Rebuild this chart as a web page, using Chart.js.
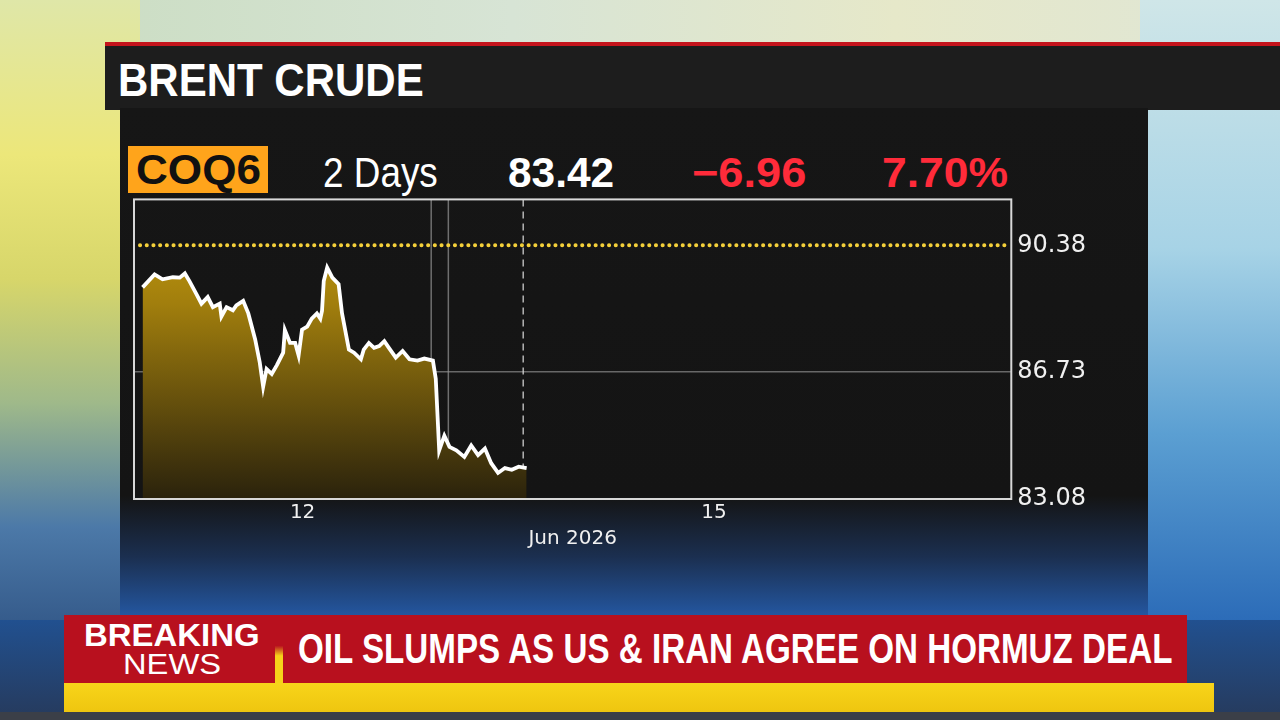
<!DOCTYPE html>
<html>
<head>
<meta charset="utf-8">
<script src="https://cdn.jsdelivr.net/npm/chart.js@4.4.1/dist/chart.umd.min.js"></script>
<style>
    html, body { margin: 0; padding: 0; }
    body {
        width: 1280px; height: 720px; overflow: hidden; position: relative;
        font-family: "Liberation Sans", Arial, sans-serif;
        background: linear-gradient(180deg, #d6e6e2 0%, #a9cfe3 35%, #5d93c8 62%, #1f5aa6 80%, #263a5c 100%);
    }
    .abs { position: absolute; }
    .fit { display: inline-block; white-space: nowrap; transform-origin: 0 50%; }
    #leftWall {
        left: 0; top: 0; width: 140px; height: 620px;
        background: linear-gradient(180deg, #dfe7a8 0%, #ece77a 25%, #d7d66a 45%, #9fb98a 65%, #4c79a8 85%, #365c8c 100%);
    }
    #rightWall {
        left: 1140px; top: 0; width: 140px; height: 620px;
        background: linear-gradient(180deg, #cfe6e8 0%, #a7d3e6 40%, #5b9fd2 70%, #2c6cb8 100%);
    }
    #topWall {
        left: 0; top: 0; width: 1280px; height: 44px;
        background: linear-gradient(90deg, #c9dcc0 0%, #d7e4d5 40%, #e6e8c9 70%, #dfe6d6 100%);
    }
    #header {
        left: 105px; top: 42px; width: 1175px; height: 64px;
        background: #1d1d1d; border-top: 4px solid #c4141c;
    }
    #header span {
        position: absolute; left: 13px; top: 8px; color: #fff;
        font-weight: bold; font-size: 46px; line-height: 52px;
    }
    #panel {
        left: 120px; top: 108px; width: 1028px; height: 510px;
        background: linear-gradient(180deg, #161616 0%, #141414 76%, #1b2f50 88%, #2458a3 100%);
    }
    .stat { position: absolute; top: 150px; font-size: 42px; line-height: 46px; }
    #ticker {
        left: 128px; top: 146px; width: 140px; height: 47px; background: #ffa41b;
    }
    #ticker span {
        position: absolute; left: 8px; top: 1px; color: #111; font-weight: bold; font-size: 42px; line-height: 46px;
    }
    #chartBox { left: 120px; top: 179px; }
    #bnLeft {
        left: 64px; top: 615px; width: 211px; height: 68px; background: #b8101e; color: #fff;
    }
    #bnLeft .b1 { position: absolute; left: 20px; top: 3px; font-weight: bold; font-size: 32px; line-height: 34px; }
    #bnLeft .b2 { position: absolute; left: 59px; top: 33px; font-size: 30px; line-height: 32px; }
    #bnRight {
        left: 283px; top: 615px; width: 904px; height: 68px; background: #b8101e; color: #fff;
    }
    #bnRight span {
        position: absolute; left: 15px; top: 11px; font-weight: bold; font-size: 42px; line-height: 46px;
    }
    #bnGap { left: 275px; top: 615px; width: 8px; height: 68px; background: linear-gradient(180deg, #b8101e 0%, #b8101e 45%, #f6d21a 60%); }
    #yellowBand { left: 64px; top: 683px; width: 1150px; height: 30px; background: linear-gradient(180deg, #f8d41a, #eec50f); }
    #floor { left: 0; top: 712px; width: 1280px; height: 8px; background: #3b3f48; }
</style>
</head>
<body>
<div class="abs" id="topWall"></div>
<div class="abs" id="leftWall"></div>
<div class="abs" id="rightWall"></div>
<div class="abs" id="header"><span class="fit" data-w="306">BRENT CRUDE</span></div>
<div class="abs" id="panel"></div>

<div class="abs" id="ticker"><span class="fit" data-w="125">COQ6</span></div>
<div class="stat fit" data-w="115" style="left:323px;color:#fff;">2 Days</div>
<div class="stat fit" data-w="106" style="left:508px;color:#fff;font-weight:bold;">83.42</div>
<div class="stat fit" data-w="114" style="left:692px;color:#ff2b3a;font-weight:bold;">&minus;6.96</div>
<div class="stat fit" data-w="126" style="left:882px;color:#ff2b3a;font-weight:bold;">7.70%</div>

<div class="abs" id="chartBox"><canvas id="priceChart" width="1000" height="376"></canvas></div>

<div class="abs" id="bnLeft"><span class="b1 fit" data-w="176">BREAKING</span><span class="b2 fit" data-w="98">NEWS</span></div>
<div class="abs" id="bnGap"></div>
<div class="abs" id="bnRight"><span class="fit" data-w="874">OIL SLUMPS AS US &amp; IRAN AGREE ON HORMUZ DEAL</span></div>
<div class="abs" id="yellowBand"></div>
<div class="abs" id="floor"></div>

<script>
// hours from the start of the window, and the price read at each point
const hours = [0, 2.1, 3.5, 5.3, 6.5, 7.4, 8.2, 9.4, 10.3, 11.4, 12.3, 13.5, 13.8, 14.7, 15.8, 16.4, 17.6,
    18.5, 19.7, 20.5, 21.1, 21.7, 22.6, 23.5, 24.6, 24.9, 25.8, 26.7, 27.3, 27.9, 28.8, 29.6, 30.5, 31.1,
    31.4, 31.7, 32.3, 33.2, 34.3, 34.9, 36.1, 37.0, 38.2, 38.7, 39.6, 40.5, 41.4, 42.3, 43.1, 44.3, 45.5,
    46.7, 48.1, 49.3, 50.8, 51.3, 51.9, 52.8, 53.7, 54.9, 56.3, 57.5, 58.7, 59.9, 61.0, 62.2, 63.4, 64.6,
    65.8, 67.2];
const prices = [89.17, 89.54, 89.40, 89.46, 89.45, 89.57, 89.35, 88.98, 88.70, 88.89, 88.60, 88.70, 88.33,
    88.60, 88.51, 88.65, 88.78, 88.42, 87.67, 87.01, 86.31, 86.82, 86.68, 86.93, 87.29, 87.94, 87.57, 87.57,
    87.21, 87.95, 88.04, 88.27, 88.42, 88.27, 88.50, 89.35, 89.74, 89.45, 89.26, 88.42, 87.38, 87.29, 87.10,
    87.38, 87.57, 87.43, 87.48, 87.62, 87.43, 87.15, 87.34, 87.10, 87.06, 87.12, 87.06, 86.54, 84.48, 84.90,
    84.58, 84.48, 84.29, 84.62, 84.34, 84.53, 84.11, 83.83, 83.97, 83.92, 84.01, 83.97];

const xTickHours = [28, 100];
const xTickLabels = ['12', '15'];
const yTickValues = [83.08, 86.73, 90.38];
const prevClose = 90.38;
const sessionLines = [50.5, 53.5];
const nowLine = 66.6;

// squeeze the caption texts to the widths they have on screen
document.querySelectorAll('.fit').forEach(el => {
    const w = +el.dataset.w;
    el.style.transform = 'scaleX(' + (w / el.offsetWidth).toFixed(3) + ')';
});

const overlays = {
    id: 'overlays',
    beforeDatasetsDraw(chart) {
        const { ctx, chartArea, scales } = chart;
        ctx.save();
        ctx.strokeStyle = 'rgba(150,150,150,0.7)';
        ctx.lineWidth = 1.5;
        sessionLines.forEach(h => {
            const x = scales.x.getPixelForValue(h);
            ctx.beginPath();
            ctx.moveTo(x, chartArea.top);
            ctx.lineTo(x, chartArea.bottom);
            ctx.stroke();
        });
        ctx.setLineDash([7, 5]);
        ctx.strokeStyle = 'rgba(220,220,220,0.8)';
        const nx = scales.x.getPixelForValue(nowLine);
        ctx.beginPath();
        ctx.moveTo(nx, chartArea.top);
        ctx.lineTo(nx, chartArea.bottom);
        ctx.stroke();
        ctx.restore();
    },
    afterDatasetsDraw(chart) {
        const { ctx, chartArea, scales } = chart;
        ctx.save();
        const y = scales.y.getPixelForValue(prevClose);
        ctx.strokeStyle = '#f4d03a';
        ctx.lineWidth = 4;
        ctx.lineCap = 'round';
        ctx.setLineDash([0.1, 6.6]);
        ctx.beginPath();
        ctx.moveTo(chartArea.left + 6, y);
        ctx.lineTo(chartArea.right - 6, y);
        ctx.stroke();
        ctx.setLineDash([]);
        ctx.lineCap = 'butt';
        ctx.strokeStyle = '#d8d8d8';
        ctx.lineWidth = 2;
        ctx.strokeRect(chartArea.left, chartArea.top, chartArea.right - chartArea.left, chartArea.bottom - chartArea.top);
        ctx.restore();
    }
};

function fillGradient(context) {
    const area = context.chart.chartArea;
    if (!area) return 'rgba(180,140,10,0.8)';
    const g = context.chart.ctx.createLinearGradient(0, area.top, 0, area.bottom);
    g.addColorStop(0, '#cda20e');
    g.addColorStop(0.35, '#a17e0d');
    g.addColorStop(1, '#2a220c');
    return g;
}

const ctx = document.getElementById('priceChart').getContext('2d');
new Chart(ctx, {
    type: 'line',
    data: {
        datasets: [{
            data: hours.map((h, i) => ({ x: h, y: prices[i] })),
            borderColor: '#ffffff',
            borderWidth: 3.8,
            pointRadius: 0,
            tension: 0,
            fill: 'start',
            backgroundColor: fillGradient
        }]
    },
    options: {
        responsive: false,
        animation: false,
        layout: { padding: { left: 14, top: 0, right: 28, bottom: 4 } },
        plugins: { legend: { display: false }, tooltip: { enabled: false } },
        scales: {
            x: {
                type: 'linear',
                min: -1.5,
                max: 152,
                afterBuildTicks: s => { s.ticks = xTickHours.map(v => ({ value: v })); },
                ticks: {
                    color: '#f0f0f0',
                    font: { family: 'DejaVu Sans', size: 20 },
                    padding: 2,
                    maxRotation: 0,
                    callback: v => xTickLabels[xTickHours.indexOf(v)]
                },
                grid: { display: false, drawTicks: false },
                border: { display: false },
                title: {
                    display: true,
                    text: 'Jun 2026',
                    color: '#f0f0f0',
                    font: { family: 'DejaVu Sans', size: 20 },
                    padding: { top: 0, bottom: 0 }
                }
            },
            y: {
                position: 'right',
                min: 83.08,
                max: 91.7,
                afterBuildTicks: s => { s.ticks = yTickValues.map(v => ({ value: v })); },
                ticks: {
                    color: '#f0f0f0',
                    font: { family: 'DejaVu Sans', size: 24 },
                    padding: 6,
                    callback: v => v.toFixed(2)
                },
                grid: {
                    drawTicks: false,
                    lineWidth: 1.5,
                    color: c => (c.tick && c.tick.value === 86.73) ? 'rgba(140,140,140,0.7)' : 'rgba(0,0,0,0)'
                },
                border: { display: false }
            }
        }
    },
    plugins: [overlays]
});
</script>
</body>
</html>
